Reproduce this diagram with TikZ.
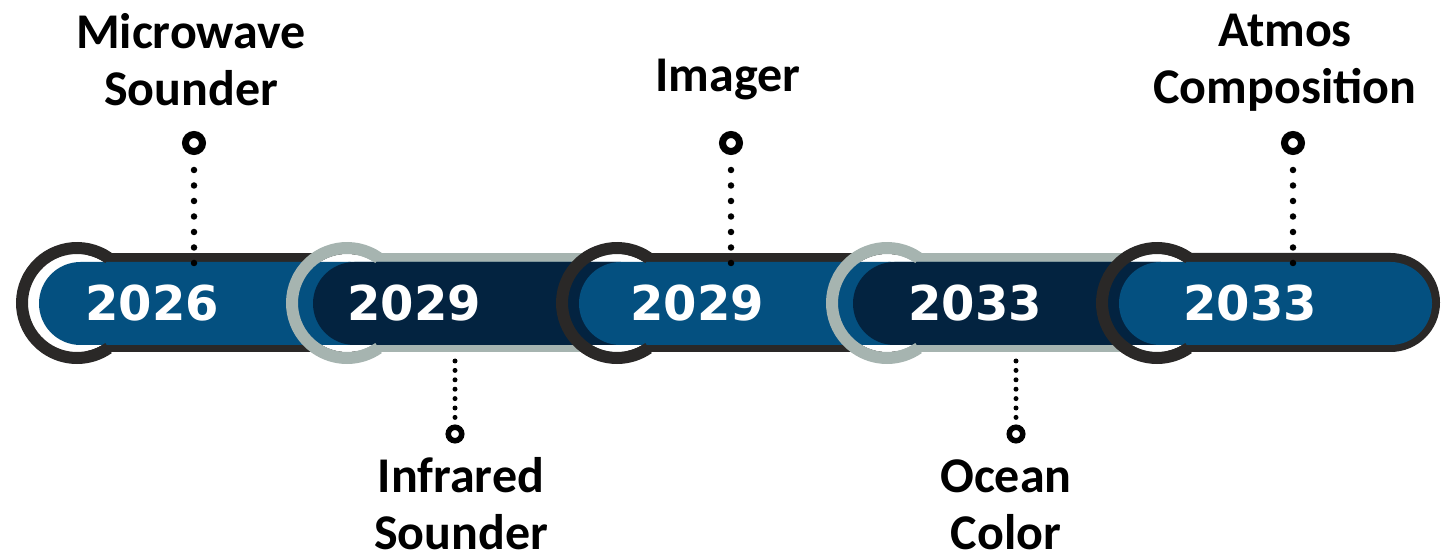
\documentclass[tikz,border=0pt]{standalone}
\usepackage{fontspec}
\setmainfont{Carlito}
\newfontfamily\yearfont{DejaVu Sans}
\usetikzlibrary{positioning}
\definecolor{barblue}{RGB}{4, 80, 128}
\definecolor{barnavy}{RGB}{3, 35, 64}
\definecolor{ringdark}{RGB}{42, 40, 39}
\definecolor{ringgrey}{RGB}{166, 180, 176}

\begin{document}
\begin{tikzpicture}[x=1pt, y=-1pt,
  year/.style={font=\yearfont\bfseries\fontsize{48}{48}\selectfont, text=white, inner sep=0pt},
  tag/.style={font=\bfseries\fontsize{50}{57}\selectfont, align=center, inner sep=0pt, anchor=base},
  pin/.style={circle, draw=black, fill=white, line width=7pt, minimum size=17pt, inner sep=0pt},
  smallpin/.style={circle, draw=black, fill=white, line width=5.5pt, minimum size=13.5pt, inner sep=0pt},
  dots/.style={line width=6.5pt, line cap=round, dash pattern=on 0pt off 15.5pt},
  smalldots/.style={line width=5pt, line cap=round, dash pattern=on 0pt off 9.4pt},
  ring/.style={line width=12pt},
]
\useasboundingbox (0,0) rectangle (1441,553);

% Bar borders
\fill[ringdark] (87,253) rectangle (397,352);
\fill[ringgrey] (357,253) rectangle (667,352);
\fill[ringdark] (627,253) rectangle (937,352);
\fill[ringgrey] (897,253) rectangle (1207,352);
\fill[ringdark] (1167,253) -- (1390.5,253) arc[start angle=90, end angle=-90, radius=49.5pt] -- (1167,352) -- cycle;

% White gaps inside the rings
\fill[white] (77,303) circle[radius=49pt];
\fill[white] (347,303) circle[radius=49pt];
\fill[white] (617,303) circle[radius=49pt];
\fill[white] (887,303) circle[radius=49pt];
\fill[white] (1157,303) circle[radius=49pt];

% Bar fills
\fill[barblue, rounded corners=41.5pt] (39,262) rectangle (392,345);
\fill[barblue, rounded corners=41.5pt] (307,262) rectangle (662,345);
\fill[barnavy, rounded corners=41.5pt] (313,262) rectangle (662,345);
\fill[barblue, rounded corners=41.5pt] (579,262) rectangle (932,345);
\fill[barblue, rounded corners=41.5pt] (847,262) rectangle (1202,345);
\fill[barnavy, rounded corners=41.5pt] (853,262) rectangle (1202,345);
\fill[barblue, rounded corners=41.5pt] (1119,262) rectangle (1432,345);

% Rings
\draw[ring, ringdark] (77,303) +(55:55pt) arc[start angle=55, end angle=305, radius=55pt];
\draw[ring, ringgrey] (347,303) +(55:55pt) arc[start angle=55, end angle=305, radius=55pt];
\draw[ring, ringdark] (617,303) +(55:55pt) arc[start angle=55, end angle=305, radius=55pt];
\draw[ring, ringgrey] (887,303) +(55:55pt) arc[start angle=55, end angle=305, radius=55pt];
\draw[ring, ringdark] (1157,303) +(55:55pt) arc[start angle=55, end angle=305, radius=55pt];

% Years
\node[year] (y2026) at (152,303) {2026};
\node[year] (y2029a) at (414,303) {2029};
\node[year] (y2029b) at (697,303) {2029};
\node[year] (y2033a) at (975,303) {2033};
\node[year] (y2033b) at (1250,303) {2033};

% Markers
\node[pin] (mwpin) at (194,143) {};
\node[pin] (impin) at (731,143) {};
\node[pin] (acpin) at (1293,143) {};
\node[smallpin] (irpin) at (455,434) {};
\node[smallpin] (ocpin) at (1016,434) {};
\coordinate (mwbar) at (194,263);
\coordinate (imbar) at (731,263);
\coordinate (acbar) at (1293,263);
\coordinate (irbar) at (455,361);
\coordinate (ocbar) at (1016,361);
\draw[dots] (mwbar) -- (mwpin.south);
\draw[dots] (imbar) -- (impin.south);
\draw[dots] (acbar) -- (acpin.south);
\draw[smalldots] (irbar) -- (irpin.north);
\draw[smalldots] (ocbar) -- (ocpin.north);

% Instrument names
\node[tag] (mw) at (191,106) {Microwave\\Sounder};
\node[tag] (im) at (728,92) {Imager};
\node[tag] (ac) at (1285,104) {Atmos\\Composition};
\node[tag] (ir) at (461,549) {Infrared\\Sounder};
\node[tag] (oc) at (1006,549) {Ocean\\Color};
\end{tikzpicture}
\end{document}
